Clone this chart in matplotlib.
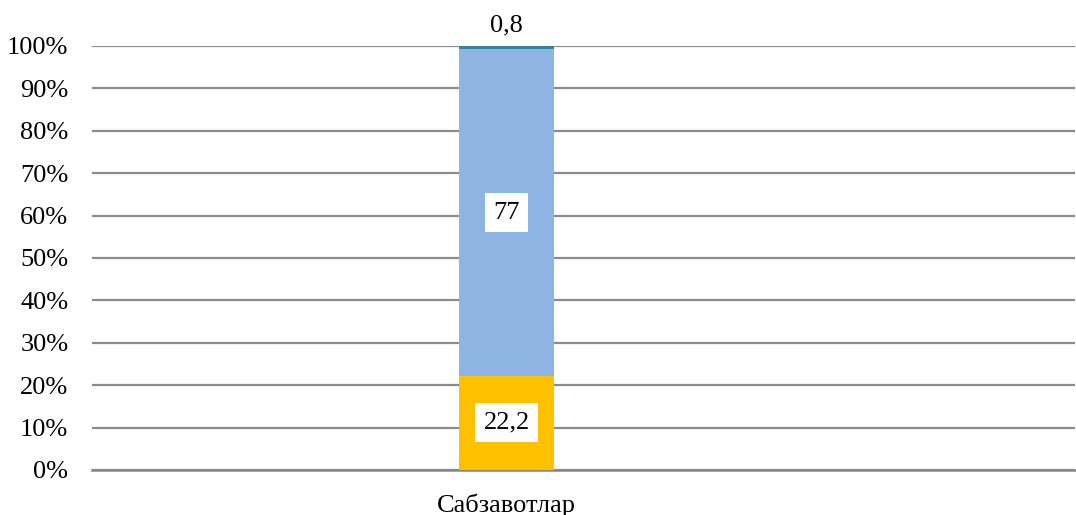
import matplotlib
matplotlib.use("Agg")
import matplotlib.pyplot as plt
import numpy as np

categories = ["Сабзавотлар"]
series_values = [22.2, 77.0, 0.8]
series_labels = ["22,2", "77", "0,8"]
series_colors = ["#FFC000", "#8EB4E3", "#31859C"]
y_ticks = [0, 10, 20, 30, 40, 50, 60, 70, 80, 90, 100]
y_tick_labels = [f"{t}%" for t in y_ticks]

plt.rcParams['font.family'] = ['Liberation Serif', 'DejaVu Serif']

fig = plt.figure(figsize=(10.76, 5.15), dpi=100)
ax = fig.add_axes([0.0855, 0.0874, 0.9135, 0.8233])

x = np.arange(len(categories))
width = 0.0966
bottom = 0.0
bars = []
for val, col in zip(series_values, series_colors):
    b = ax.bar(x, [val], width=width, bottom=[bottom], color=col, zorder=3)
    bars.append((b, bottom, val))
    bottom += val

# labels
ax.text(x[0], bars[0][1] + bars[0][2] / 2, series_labels[0], ha='center', va='center',
        fontsize=19, zorder=5,
        bbox=dict(facecolor='white', edgecolor='none', pad=6))
ax.text(x[0], bars[1][1] + bars[1][2] / 2, series_labels[1], ha='center', va='center',
        fontsize=19, zorder=5,
        bbox=dict(facecolor='white', edgecolor='none', pad=6))
ax.text(x[0], 100 + 2.2, series_labels[2], ha='center', va='bottom',
        fontsize=19, zorder=5)

ax.set_ylim(0, 100)
S = 1.0
ax.set_xlim(-0.422 * S, 0.578 * S)
ax.set_yticks(y_ticks)
ax.set_yticklabels(y_tick_labels, fontsize=19)
ax.set_xticks(x)
ax.set_xticklabels(categories, fontsize=19)
ax.tick_params(axis='y', length=0, pad=17)
ax.tick_params(axis='x', length=0, pad=17)
ax.yaxis.grid(True, color='#8C8C8C', linewidth=1.6, zorder=0)
for s in ['top', 'right', 'left']:
    ax.spines[s].set_visible(False)
ax.spines['bottom'].set_color('#868686')
ax.spines['bottom'].set_linewidth(1.8)
ax.set_axisbelow(True)

fig.savefig("out.png", dpi=100)
